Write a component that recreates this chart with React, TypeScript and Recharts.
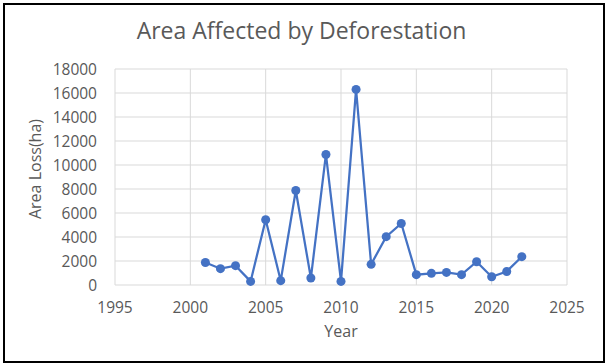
import React from 'react';
import { ScatterChart, Scatter, XAxis, YAxis, CartesianGrid, Label } from 'recharts';

const years = [2001, 2002, 2003, 2004, 2005, 2006, 2007, 2008, 2009, 2010, 2011, 2012, 2013, 2014, 2015, 2016, 2017, 2018, 2019, 2020, 2021, 2022];
const areaLoss = [1880, 1360, 1610, 300, 5440, 360, 7880, 580, 10880, 300, 16300, 1720, 4030, 5130, 860, 970, 1050, 860, 1940, 690, 1130, 2360];
const xTicks = [1995, 2000, 2005, 2010, 2015, 2020, 2025];
const yTicks = [0, 2000, 4000, 6000, 8000, 10000, 12000, 14000, 16000, 18000];

const data = years.map((y, i) => ({ year: y, loss: areaLoss[i] }));

const FONT = '"Open Sans", "Noto Sans", sans-serif';
const GREY = '#595959';
const BLUE = '#4472C4';

export default function App() {
  return (
    <div style={{ position: 'absolute', left: 0, top: 0, width: 606, height: 363, background: '#fff', fontFamily: FONT }}>
      <div style={{ position: 'absolute', left: 3, top: 3, width: 598, height: 356, border: '2px solid #000' }} />
      <div style={{ position: 'absolute', left: 0, top: 14, width: 603, textAlign: 'center', fontSize: 23, lineHeight: '32px', color: GREY }}>
        Area Affected by Deforestation
      </div>
      <div style={{ position: 'absolute', left: 0, top: 0 }}>
        <ScatterChart width={606} height={363} margin={{ top: 69, right: 39, bottom: 0, left: 0 }}>
          <CartesianGrid stroke="#D9D9D9" strokeWidth={1} />
          <XAxis
            type="number"
            dataKey="year"
            domain={[1995, 2025]}
            ticks={xTicks}
            height={78}
            axisLine={false}
            tickLine={false}
            tickSize={0}
            tickMargin={17}
            tick={{ fill: GREY, fontSize: 15.5, fontFamily: FONT }}
          >
            <Label value="Year" position="center" dy={7} fill={GREY} fontSize={16} fontFamily={FONT} />
          </XAxis>
          <YAxis
            type="number"
            dataKey="loss"
            domain={[0, 18000]}
            ticks={yTicks}
            width={115}
            axisLine={false}
            tickLine={false}
            tickSize={0}
            tickMargin={18}
            tick={{ fill: GREY, fontSize: 15.5, fontFamily: FONT }}
          >
            <Label value="Area Loss(ha)" position="center" angle={-90} dx={-22.5} dy={-8} fill={GREY} fontSize={16} fontFamily={FONT} />
          </YAxis>
          <Scatter
            data={data}
            fill={BLUE}
            line={{ stroke: BLUE, strokeWidth: 2.25 }}
            lineType="joint"
            shape="circle"
            isAnimationActive={false}
          />
        </ScatterChart>
      </div>
    </div>
  );
}
